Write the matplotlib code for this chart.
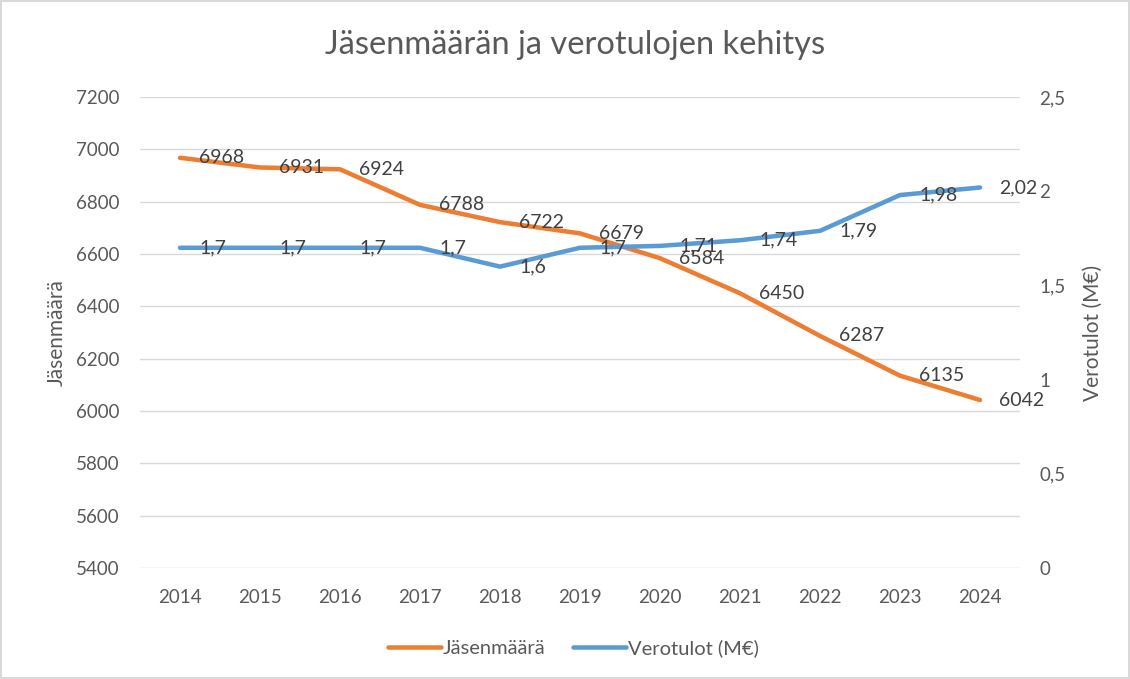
#! /usr/bin/env python3
import matplotlib
matplotlib.use("Agg")
import matplotlib.pyplot as plt


YEARS = ["2014", "2015", "2016", "2017", "2018", "2019",
         "2020", "2021", "2022", "2023", "2024"]
MEMBERS = [6968, 6931, 6924, 6788, 6722, 6679, 6584, 6450, 6287, 6135, 6042]
TAX = [1.7, 1.7, 1.7, 1.7, 1.6, 1.7, 1.71, 1.74, 1.79, 1.98, 2.02]
TAX_LABELS = ["1,7", "1,7", "1,7", "1,7", "1,6", "1,7",
              "1,71", "1,74", "1,79", "1,98", "2,02"]

ORANGE = "#ED7D31"
BLUE = "#5B9BD5"
GREY = "#595959"
DARK = "#404040"
GRID = "#D9D9D9"

plt.rcParams["font.family"] = ["Lato", "DejaVu Sans"]


def plot():
    fig = plt.figure(figsize=(11.3, 6.79), dpi=100)
    fig.patch.set_edgecolor(GRID)
    fig.patch.set_linewidth(1.5)

    ax = fig.add_axes([0.1239, 0.1635, 0.7788, 0.6935])
    ax2 = ax.twinx()

    x = list(range(len(YEARS)))

    # primary axis: members
    ax.plot(x, MEMBERS, color=ORANGE, lw=3.25, solid_joinstyle="round",
            solid_capstyle="round", label="Jäsenmäärä")
    ax.set_ylim(5400, 7200)
    ax.set_yticks(range(5400, 7201, 200))
    ax.set_xlim(-0.5, len(YEARS) - 0.5)
    ax.set_xticks(x)
    ax.set_xticklabels(YEARS)
    ax.grid(axis="y", color=GRID, lw=1)
    ax.set_axisbelow(True)

    # secondary axis: tax income
    ax2.plot(x, TAX, color=BLUE, lw=3.25, solid_joinstyle="round",
             solid_capstyle="round", label="Verotulot (M€)")
    ax2.set_ylim(0, 2.5)
    ax2.set_yticks([0, 0.5, 1, 1.5, 2, 2.5])
    ax2.set_yticklabels(["0", "0,5", "1", "1,5", "2", "2,5"])

    for a in (ax, ax2):
        for s in a.spines.values():
            s.set_visible(False)
        a.tick_params(length=0, colors=GREY, labelsize=13.5)
    ax.tick_params(axis="y", pad=15)
    ax.tick_params(axis="x", pad=15)
    ax2.tick_params(axis="y", pad=14)

    # data labels, right of the points, drawn above both lines
    for xi, v in zip(x, MEMBERS):
        ax2.annotate(str(v), xy=(xi, v), xycoords=ax.transData,
                     xytext=(14, 0), textcoords="offset points",
                     ha="left", va="center", fontsize=14, color=DARK)
    for xi, v, t in zip(x, TAX, TAX_LABELS):
        ax2.annotate(t, xy=(xi, v), xycoords="data",
                     xytext=(14, 0), textcoords="offset points",
                     ha="left", va="center", fontsize=14, color=DARK)

    ax.set_ylabel("Jäsenmäärä", color=GREY, fontsize=15, labelpad=6)
    ax2.set_ylabel("Verotulot (M€)", color=GREY, fontsize=15, labelpad=12)

    fig.text(0.509, 0.934, "Jäsenmäärän ja verotulojen kehitys",
             ha="center", va="center", fontsize=23.5, color=GREY)

    h1, l1 = ax.get_legend_handles_labels()
    h2, l2 = ax2.get_legend_handles_labels()
    fig.legend(h1 + h2, l1 + l2, loc="center", bbox_to_anchor=(0.5075, 0.0457),
               ncol=2, frameon=False, fontsize=14.5, labelcolor=GREY,
               handlelength=2.6, handletextpad=0.1, columnspacing=1.4)

    fig.savefig("out.png", dpi=100)


if __name__ == "__main__":
    plot()
